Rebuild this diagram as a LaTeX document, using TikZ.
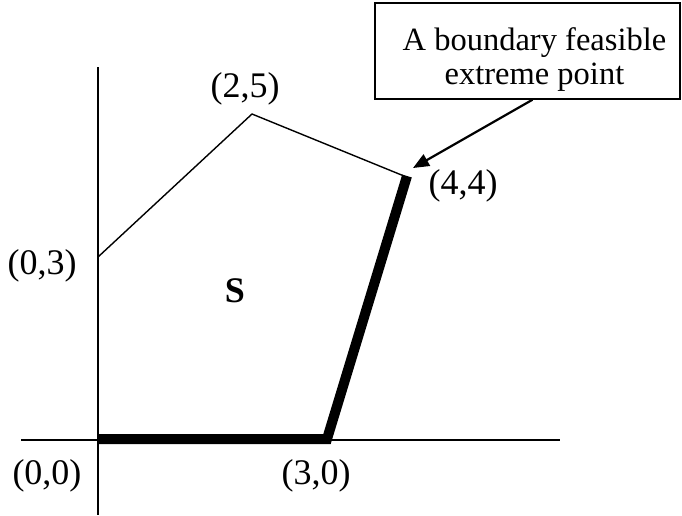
\documentclass[tikz,border=0pt]{standalone}
\usepackage{fontspec}
\setmainfont{Liberation Serif}
\usetikzlibrary{arrows.meta}
\begin{document}
\begin{tikzpicture}[x=1pt,y=-1pt,
  axisline/.style={line width=1.6pt},
  thinedge/.style={line width=1.4pt},
  thickedge/.style={line width=10pt, line join=miter},
  lbl/.style={font=\fontsize{36}{42}\selectfont, inner sep=0pt},
  callout/.style={draw, line width=1.4pt, font=\fontsize{32.5}{34}\selectfont, align=center, minimum width=305pt, minimum height=96pt, inner sep=0pt},
  pointer/.style={line width=2.2pt, -{Triangle[length=16pt,width=13pt]}}]
\useasboundingbox (0,0) rectangle (682,515);
% vertices
\coordinate (o) at (98,439);
\coordinate (a) at (327,439);
\coordinate (b) at (407,176);
\coordinate (c) at (252,114);
\coordinate (d) at (98,257);
% axes
\coordinate (yt) at (98,67);
\coordinate (yb) at (98,515);
\coordinate (xl) at (21,440);
\coordinate (xr) at (560,440);
\draw[axisline] (yt) -- (yb);
\draw[axisline] (xl) -- (xr);
% region edges
\draw[thinedge] (d) -- (c) -- ([xshift=-3pt]b);
\draw[thickedge] (o) -- (a) -- (b);
% labels
\node[lbl] (l00) at (47,476) {(0,0)};
\node[lbl] (l30) at (316,476) {(3,0)};
\node[lbl] (l03) at (42,266) {(0,3)};
\node[lbl] (l25) at (245,89) {(2,5)};
\node[lbl] (l44) at (463,186) {(4,4)};
\node[lbl, font=\fontsize{36}{42}\selectfont\bfseries] (s) at (235,291) {S};
% callout
\node[callout] (box) at (527.5,51) {\rule{0pt}{40pt}\hspace*{14pt}A boundary feasible\\\hspace*{14pt}extreme point};
\coordinate (tip) at (413,168);
\draw[pointer] ([xshift=5pt]box.south) -- (tip);
\end{tikzpicture}
\end{document}
